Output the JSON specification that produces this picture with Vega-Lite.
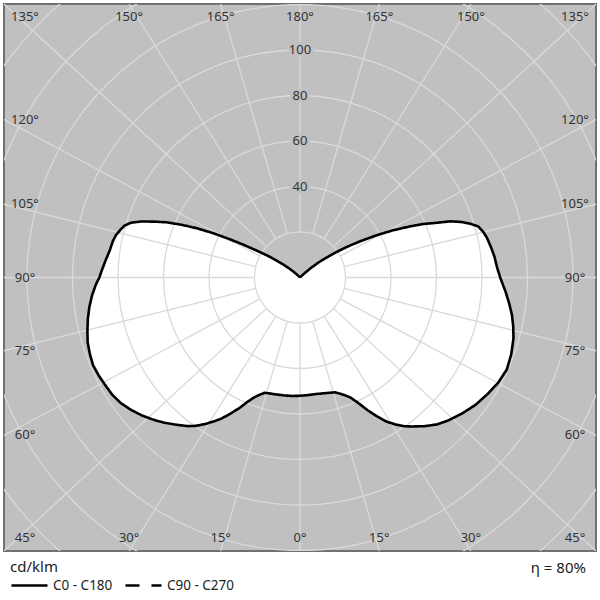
{
  "$schema": "https://vega.github.io/schema/vega-lite/v6.json",
  "width": 592,
  "height": 547,
  "autosize": "none",
  "padding": {"left": 4, "top": 4, "right": 4, "bottom": 49},
  "background": "white",
  "view": {"fill": "#c0c0c0", "stroke": "#707070", "strokeWidth": 2},
  "config": {
    "font": "Noto Sans",
    "legend": {
      "titleFont": "Noto Sans", "titleFontSize": 15, "titleFontWeight": "normal", "titleColor": "#222",
      "labelFont": "Noto Sans", "labelFontSize": 13.5, "labelColor": "#222",
      "symbolType": "stroke", "symbolSize": 1300, "symbolStrokeWidth": 2.5, "symbolStrokeColor": "black",
      "columnPadding": 7, "labelOffset": 4, "titlePadding": -9, "padding": 0, "gridAlign": "none"
    }
  },
  "datasets": {
    "curve": [
      {"plane": "C0 - C180", "phi": -180, "I": 0},
      {"plane": "C0 - C180", "phi": -165, "I": 0},
      {"plane": "C0 - C180", "phi": -150, "I": 0},
      {"plane": "C0 - C180", "phi": -137, "I": 0.3},
      {"plane": "C0 - C180", "phi": -134, "I": 1.5},
      {"plane": "C0 - C180", "phi": -132, "I": 3.5},
      {"plane": "C0 - C180", "phi": -130, "I": 6.0},
      {"plane": "C0 - C180", "phi": -128, "I": 9.0},
      {"plane": "C0 - C180", "phi": -126, "I": 12.5},
      {"plane": "C0 - C180", "phi": -124, "I": 17.0},
      {"plane": "C0 - C180", "phi": -122, "I": 22.0},
      {"plane": "C0 - C180", "phi": -120, "I": 29.0},
      {"plane": "C0 - C180", "phi": -118.5, "I": 35.5},
      {"plane": "C0 - C180", "phi": -117, "I": 43.0},
      {"plane": "C0 - C180", "phi": -115.5, "I": 50.3},
      {"plane": "C0 - C180", "phi": -114, "I": 57.0},
      {"plane": "C0 - C180", "phi": -112.5, "I": 63.4},
      {"plane": "C0 - C180", "phi": -111, "I": 68.5},
      {"plane": "C0 - C180", "phi": -109.5, "I": 73.8},
      {"plane": "C0 - C180", "phi": -108, "I": 78.0},
      {"plane": "C0 - C180", "phi": -106.5, "I": 80.4},
      {"plane": "C0 - C180", "phi": -105, "I": 81.6},
      {"plane": "C0 - C180", "phi": -103, "I": 83.0},
      {"plane": "C0 - C180", "phi": -101, "I": 83.8},
      {"plane": "C0 - C180", "phi": -98, "I": 84.5},
      {"plane": "C0 - C180", "phi": -95, "I": 85.8},
      {"plane": "C0 - C180", "phi": -92, "I": 87.2},
      {"plane": "C0 - C180", "phi": -90, "I": 88.2},
      {"plane": "C0 - C180", "phi": -88, "I": 89.8},
      {"plane": "C0 - C180", "phi": -85, "I": 91.8},
      {"plane": "C0 - C180", "phi": -82, "I": 93.5},
      {"plane": "C0 - C180", "phi": -79, "I": 95.0},
      {"plane": "C0 - C180", "phi": -76, "I": 96.3},
      {"plane": "C0 - C180", "phi": -73, "I": 97.6},
      {"plane": "C0 - C180", "phi": -70, "I": 98.3},
      {"plane": "C0 - C180", "phi": -67, "I": 98.8},
      {"plane": "C0 - C180", "phi": -64, "I": 98.4},
      {"plane": "C0 - C180", "phi": -61, "I": 97.8},
      {"plane": "C0 - C180", "phi": -58, "I": 97.3},
      {"plane": "C0 - C180", "phi": -55, "I": 96.2},
      {"plane": "C0 - C180", "phi": -52, "I": 94.4},
      {"plane": "C0 - C180", "phi": -49, "I": 92.3},
      {"plane": "C0 - C180", "phi": -46, "I": 89.9},
      {"plane": "C0 - C180", "phi": -43, "I": 87.3},
      {"plane": "C0 - C180", "phi": -40, "I": 84.5},
      {"plane": "C0 - C180", "phi": -37, "I": 81.8},
      {"plane": "C0 - C180", "phi": -35, "I": 79.6},
      {"plane": "C0 - C180", "phi": -33, "I": 76.8},
      {"plane": "C0 - C180", "phi": -31, "I": 73.9},
      {"plane": "C0 - C180", "phi": -29, "I": 70.8},
      {"plane": "C0 - C180", "phi": -27, "I": 67.0},
      {"plane": "C0 - C180", "phi": -25, "I": 63.5},
      {"plane": "C0 - C180", "phi": -23, "I": 59.5},
      {"plane": "C0 - C180", "phi": -21, "I": 56.5},
      {"plane": "C0 - C180", "phi": -19, "I": 54.5},
      {"plane": "C0 - C180", "phi": -17, "I": 53.0},
      {"plane": "C0 - C180", "phi": -15, "I": 52.7},
      {"plane": "C0 - C180", "phi": -12, "I": 52.5},
      {"plane": "C0 - C180", "phi": -8, "I": 52.3},
      {"plane": "C0 - C180", "phi": -4, "I": 52.2},
      {"plane": "C0 - C180", "phi": 0, "I": 52.0},
      {"plane": "C0 - C180", "phi": 4, "I": 51.8},
      {"plane": "C0 - C180", "phi": 8, "I": 51.7},
      {"plane": "C0 - C180", "phi": 12, "I": 52.0},
      {"plane": "C0 - C180", "phi": 15, "I": 52.4},
      {"plane": "C0 - C180", "phi": 17, "I": 52.8},
      {"plane": "C0 - C180", "phi": 19, "I": 54.0},
      {"plane": "C0 - C180", "phi": 21, "I": 55.5},
      {"plane": "C0 - C180", "phi": 23, "I": 57.5},
      {"plane": "C0 - C180", "phi": 25, "I": 61.0},
      {"plane": "C0 - C180", "phi": 27, "I": 65.5},
      {"plane": "C0 - C180", "phi": 29, "I": 69.8},
      {"plane": "C0 - C180", "phi": 31, "I": 73.9},
      {"plane": "C0 - C180", "phi": 33, "I": 77.0},
      {"plane": "C0 - C180", "phi": 35, "I": 79.8},
      {"plane": "C0 - C180", "phi": 37, "I": 82.0},
      {"plane": "C0 - C180", "phi": 40, "I": 85.3},
      {"plane": "C0 - C180", "phi": 43, "I": 88.3},
      {"plane": "C0 - C180", "phi": 46, "I": 90.5},
      {"plane": "C0 - C180", "phi": 50, "I": 93.0},
      {"plane": "C0 - C180", "phi": 54, "I": 95.3},
      {"plane": "C0 - C180", "phi": 58, "I": 97.0},
      {"plane": "C0 - C180", "phi": 62, "I": 98.6},
      {"plane": "C0 - C180", "phi": 66, "I": 99.5},
      {"plane": "C0 - C180", "phi": 70, "I": 98.8},
      {"plane": "C0 - C180", "phi": 74, "I": 97.6},
      {"plane": "C0 - C180", "phi": 77, "I": 96.2},
      {"plane": "C0 - C180", "phi": 80, "I": 94.6},
      {"plane": "C0 - C180", "phi": 83, "I": 92.6},
      {"plane": "C0 - C180", "phi": 86, "I": 90.6},
      {"plane": "C0 - C180", "phi": 90, "I": 88.0},
      {"plane": "C0 - C180", "phi": 93, "I": 86.7},
      {"plane": "C0 - C180", "phi": 96, "I": 86.0},
      {"plane": "C0 - C180", "phi": 99, "I": 85.0},
      {"plane": "C0 - C180", "phi": 102, "I": 84.0},
      {"plane": "C0 - C180", "phi": 104, "I": 83.0},
      {"plane": "C0 - C180", "phi": 106, "I": 81.5},
      {"plane": "C0 - C180", "phi": 107.5, "I": 78.5},
      {"plane": "C0 - C180", "phi": 109, "I": 75.0},
      {"plane": "C0 - C180", "phi": 110.5, "I": 70.5},
      {"plane": "C0 - C180", "phi": 112, "I": 64.0},
      {"plane": "C0 - C180", "phi": 113.5, "I": 59.0},
      {"plane": "C0 - C180", "phi": 115, "I": 53.0},
      {"plane": "C0 - C180", "phi": 117, "I": 45.5},
      {"plane": "C0 - C180", "phi": 119, "I": 38.0},
      {"plane": "C0 - C180", "phi": 121, "I": 31.0},
      {"plane": "C0 - C180", "phi": 123, "I": 25.0},
      {"plane": "C0 - C180", "phi": 125, "I": 19.5},
      {"plane": "C0 - C180", "phi": 127, "I": 14.5},
      {"plane": "C0 - C180", "phi": 129, "I": 10.5},
      {"plane": "C0 - C180", "phi": 131, "I": 6.5},
      {"plane": "C0 - C180", "phi": 133, "I": 3.0},
      {"plane": "C0 - C180", "phi": 135, "I": 1.0},
      {"plane": "C0 - C180", "phi": 138, "I": 0.2},
      {"plane": "C0 - C180", "phi": 150, "I": 0},
      {"plane": "C0 - C180", "phi": 165, "I": 0},
      {"plane": "C0 - C180", "phi": 180, "I": 0}
    ],
    "rays": [
      {"phi": -165}, {"phi": -150}, {"phi": -135}, {"phi": -120}, {"phi": -105}, {"phi": -90},
      {"phi": -75}, {"phi": -60}, {"phi": -45}, {"phi": -30}, {"phi": -15}, {"phi": 0},
      {"phi": 15}, {"phi": 30}, {"phi": 45}, {"phi": 60}, {"phi": 75}, {"phi": 90},
      {"phi": 105}, {"phi": 120}, {"phi": 135}, {"phi": 150}, {"phi": 165}, {"phi": 180}
    ],
    "circles": [
      {"r": 20}, {"r": 40}, {"r": 60}, {"r": 80}, {"r": 100}, {"r": 120}, {"r": 140}, {"r": 160}, {"r": 180}
    ],
    "ticks": [
      {"r": 40}, {"r": 60}, {"r": 80}, {"r": 100}
    ],
    "notes": [
      {"text": "η = 80%", "x": 125.7, "y": -127.7}
    ]
  },
  "layer": [
    {
      "data": {"name": "curve"},
      "transform": [
        {"calculate": "datum.I * sin(datum.phi * PI / 180)", "as": "x"},
        {"calculate": "-datum.I * cos(datum.phi * PI / 180)", "as": "y"}
      ],
      "mark": {"type": "line", "fill": "white", "stroke": "white", "strokeWidth": 0.5},
      "encoding": {
        "x": {"field": "x", "type": "quantitative", "scale": {"domain": [-130.11, 130.11], "nice": false, "zero": false}, "axis": null},
        "y": {"field": "y", "type": "quantitative", "scale": {"domain": [-120.22, 120.22], "nice": false, "zero": false}, "axis": null},
        "order": {"field": "phi", "type": "quantitative"}
      }
    },
    {
      "data": {"name": "circles"},
      "mark": {"type": "arc", "filled": false, "stroke": "#d9d9d9", "strokeWidth": 1.3, "theta": 0, "theta2": 6.2832, "clip": true},
      "encoding": {
        "radius": {"field": "r", "type": "quantitative", "stack": null, "scale": {"type": "linear", "domain": [0, 100], "range": [0, 227.5], "zero": true}}
      }
    },
    {
      "data": {"name": "rays"},
      "transform": [
        {"calculate": "sin(datum.phi * PI / 180)", "as": "s"},
        {"calculate": "cos(datum.phi * PI / 180)", "as": "c"},
        {"calculate": "sqrt(pow(130.11 * datum.s, 2) + pow(120.22 * datum.c, 2))", "as": "n"},
        {"calculate": "1 / max(abs(datum.s), abs(datum.c))", "as": "k"},
        {"calculate": "20 * 130.11 * datum.s / datum.n", "as": "x0"},
        {"calculate": "-20 * 120.22 * datum.c / datum.n", "as": "y0"},
        {"calculate": "130.11 * datum.s * datum.k", "as": "x1"},
        {"calculate": "-120.22 * datum.c * datum.k", "as": "y1"}
      ],
      "mark": {"type": "rule", "stroke": "#d9d9d9", "strokeWidth": 1.3, "clip": true},
      "encoding": {
        "x": {"field": "x0", "type": "quantitative", "scale": {"domain": [-130.11, 130.11], "nice": false, "zero": false}, "axis": null},
        "y": {"field": "y0", "type": "quantitative", "scale": {"domain": [-120.22, 120.22], "nice": false, "zero": false}, "axis": null},
        "x2": {"field": "x1"},
        "y2": {"field": "y1"}
      }
    },
    {
      "data": {"name": "curve"},
      "transform": [
        {"calculate": "datum.I * sin(datum.phi * PI / 180)", "as": "x"},
        {"calculate": "-datum.I * cos(datum.phi * PI / 180)", "as": "y"}
      ],
      "mark": {"type": "line", "color": "black", "strokeWidth": 2.6, "strokeJoin": "round"},
      "encoding": {
        "x": {"field": "x", "type": "quantitative", "scale": {"domain": [-130.11, 130.11], "nice": false, "zero": false}, "axis": null},
        "y": {"field": "y", "type": "quantitative", "scale": {"domain": [-120.22, 120.22], "nice": false, "zero": false}, "axis": null},
        "order": {"field": "phi", "type": "quantitative"},
        "strokeDash": {
          "field": "plane", "type": "nominal",
          "scale": {"domain": ["C0 - C180", "C90 - C270"], "range": [[1, 0], [14, 12]]},
          "legend": {"title": "cd/klm", "orient": "none", "legendX": 6, "legendY": 556, "direction": "horizontal"}
        }
      }
    },
    {
      "data": {"name": "rays"},
      "transform": [
        {"calculate": "sin(datum.phi * PI / 180)", "as": "s"},
        {"calculate": "cos(datum.phi * PI / 180)", "as": "c"},
        {"calculate": "1 / max(abs(datum.s), abs(datum.c))", "as": "k"},
        {"calculate": "clamp(130.11 * datum.s * datum.k, -120.88, 120.88)", "as": "lx"},
        {"calculate": "clamp(-120.22 * datum.c * datum.k, -114.51, 114.51)", "as": "ly"},
        {"calculate": "abs(datum.phi) + '°'", "as": "label"}
      ],
      "mark": {"type": "text", "fontSize": 13, "color": "#333", "align": "center", "baseline": "middle"},
      "encoding": {
        "x": {"field": "lx", "type": "quantitative", "scale": {"domain": [-130.11, 130.11], "nice": false, "zero": false}, "axis": null},
        "y": {"field": "ly", "type": "quantitative", "scale": {"domain": [-120.22, 120.22], "nice": false, "zero": false}, "axis": null},
        "text": {"field": "label"}
      }
    },
    {
      "data": {"name": "ticks"},
      "mark": {"type": "text", "fontSize": 13, "color": "#c0c0c0", "stroke": "#c0c0c0", "strokeWidth": 6, "align": "center", "baseline": "middle"},
      "encoding": {
        "x": {"datum": 0, "type": "quantitative", "scale": {"domain": [-130.11, 130.11], "nice": false, "zero": false}, "axis": null},
        "y": {"field": "r", "type": "quantitative", "scale": {"domain": [-120.22, 120.22], "nice": false, "zero": false}, "axis": null},
        "text": {"field": "r"}
      }
    },
    {
      "data": {"name": "ticks"},
      "mark": {"type": "text", "fontSize": 13, "color": "#333", "align": "center", "baseline": "middle"},
      "encoding": {
        "x": {"datum": 0, "type": "quantitative", "scale": {"domain": [-130.11, 130.11], "nice": false, "zero": false}, "axis": null},
        "y": {"field": "r", "type": "quantitative", "scale": {"domain": [-120.22, 120.22], "nice": false, "zero": false}, "axis": null},
        "text": {"field": "r"}
      }
    },
    {
      "data": {"name": "notes"},
      "mark": {"type": "text", "fontSize": 15, "color": "#222", "align": "right", "baseline": "middle"},
      "encoding": {
        "x": {"field": "x", "type": "quantitative", "scale": {"domain": [-130.11, 130.11], "nice": false, "zero": false}, "axis": null},
        "y": {"field": "y", "type": "quantitative", "scale": {"domain": [-120.22, 120.22], "nice": false, "zero": false}, "axis": null},
        "text": {"field": "text"}
      }
    }
  ]
}
